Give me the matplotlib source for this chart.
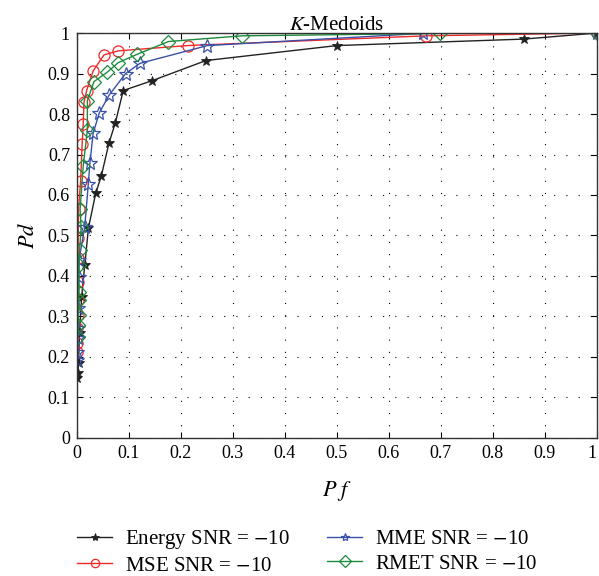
import numpy as np
import matplotlib
matplotlib.use('Agg')
import matplotlib.pyplot as plt

plt.rcParams['font.family'] = ['Liberation Serif', 'DejaVu Serif']
plt.rcParams['mathtext.fontset'] = 'stix'

# data
energy_pf = [0.0, 0.002, 0.003, 0.005, 0.009, 0.015, 0.022, 0.036, 0.047, 0.0615, 0.074, 0.089, 0.144, 0.248, 0.50, 0.86, 1.0]
energy_pd = [0.148, 0.16, 0.185, 0.26, 0.349, 0.427, 0.518, 0.604, 0.648, 0.728, 0.779, 0.858, 0.882, 0.932, 0.969, 0.985, 1.0]

mse_pf = [0.001, 0.001, 0.001, 0.0015, 0.002, 0.002, 0.002, 0.0025, 0.003, 0.007, 0.010, 0.012, 0.0135, 0.0186, 0.031, 0.052, 0.0795, 0.213, 0.671, 1.0]
mse_pd = [0.213, 0.234, 0.271, 0.304, 0.34, 0.386, 0.444, 0.493, 0.565, 0.635, 0.726, 0.775, 0.829, 0.858, 0.906, 0.946, 0.956, 0.969, 0.993, 1.0]

mme_pf = [0.001, 0.001, 0.0015, 0.002, 0.002, 0.003, 0.004, 0.015, 0.0218, 0.025, 0.031, 0.043, 0.062, 0.0936, 0.121, 0.251, 0.666, 1.0]
mme_pd = [0.193, 0.213, 0.246, 0.271, 0.32, 0.398, 0.44, 0.522, 0.627, 0.68, 0.752, 0.803, 0.847, 0.90, 0.925, 0.969, 0.999, 1.0]

rmet_pf = [0.002, 0.002, 0.003, 0.003, 0.004, 0.004, 0.005, 0.008, 0.006, 0.012, 0.020, 0.020, 0.0327, 0.058, 0.0795, 0.115, 0.176, 0.317, 0.698, 1.0]
rmet_pd = [0.25, 0.279, 0.304, 0.34, 0.361, 0.427, 0.464, 0.52, 0.565, 0.672, 0.76, 0.833, 0.88, 0.903, 0.927, 0.947, 0.979, 0.993, 0.999, 1.0]

labels = ['Energy SNR = $-$10', 'MSE SNR = $-$10', 'MME SNR = $-$10', 'RMET SNR = $-$10']

fig = plt.figure(figsize=(5.99, 5.76), dpi=100)
ax = fig.add_axes([0.1285, 0.2396, 0.868, 0.7031])

l1, = ax.plot(energy_pf, energy_pd, color='#222222', lw=1.0, marker='*', ms=7,
              mfc='#222222', mec='#222222', mew=0.6)
l2, = ax.plot(mse_pf, mse_pd, color='#ee2a2a', lw=1.0, marker='o', ms=8,
              mfc='none', mec='#ee2a2a', mew=0.9)
l3, = ax.plot(mme_pf, mme_pd, color='#3950a8', lw=1.0, marker='*', ms=10,
              mfc='none', mec='#3950a8', mew=0.9)
l4, = ax.plot(rmet_pf, rmet_pd, color='#1e8a3c', lw=1.0, marker='D', ms=7,
              mfc='none', mec='#1e8a3c', mew=0.9)

ax.set_xlim(0, 1)
ax.set_ylim(0, 1)
ticks = np.arange(0, 1.01, 0.1)
ax.set_xticks(ticks)
ax.set_yticks(ticks)
tl = ['0'] + ['%.1f' % t for t in ticks[1:-1]] + ['1']
ax.set_xticklabels(tl)
ax.set_yticklabels(tl)
ax.tick_params(direction='in', top=True, right=True, labelsize=13, length=4, pad=5)
# last x label sits on the figure edge, nudge it so it isn't clipped
ax.get_xticklabels()[-1].set_ha('right')
ax.grid(True, color='black', linestyle=(0, (1, 10)), linewidth=0.8)
for s in ax.spines.values():
    s.set_linewidth(1.0)
    s.set_color('#333333')

ax.set_title('$K$-Medoids', fontsize=15, pad=2)
ax.set_xlabel('$P\\ f$', fontsize=16, labelpad=12)
ax.set_ylabel('$Pd$', fontsize=16, labelpad=6)

leg = fig.legend([l1, l2, l3, l4], labels, loc='lower left', bbox_to_anchor=(0.097, -0.032),
                 ncol=2, frameon=False, fontsize=15, columnspacing=1.8,
                 handlelength=1.7, handletextpad=0.6, labelspacing=0.25)
for h in leg.legend_handles:
    h.set_markersize(6)

fig.savefig('out.png', dpi=100)
